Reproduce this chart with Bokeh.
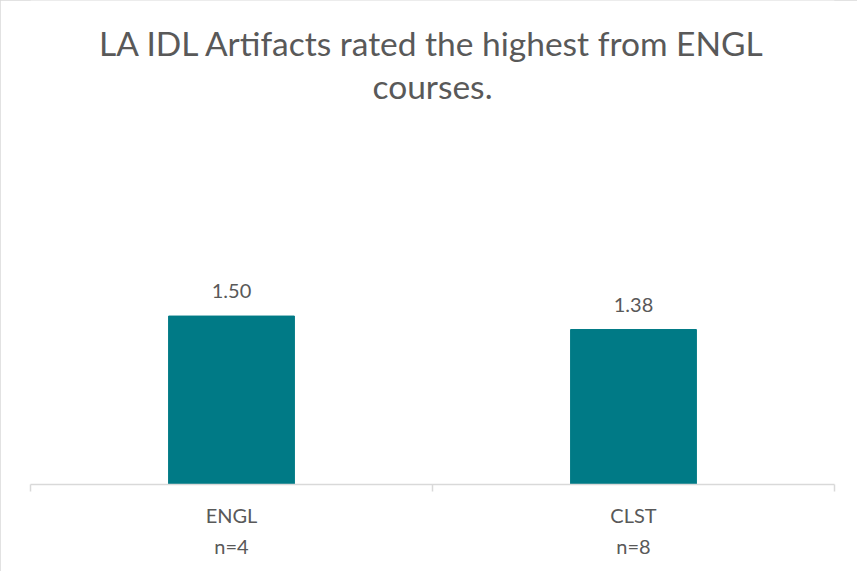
from bokeh.plotting import figure
from bokeh.models import ColumnDataSource, LabelSet, Label, FixedTicker, Range1d
from bokeh.core.properties import value
from bokeh.embed import file_html
from bokeh.resources import INLINE

categories = ["ENGL", "CLST"]
counts = ["n=4", "n=8"]
values = [1.50, 1.38]
title_lines = ["LA IDL Artifacts rated the highest from ENGL", "courses."]

FONT = "Lato"
TXT = "#595959"
BAR = "#007A86"
GRID = "#D9D9D9"
YMAX = 4.31

xs = [i + 0.5 for i in range(len(categories))]
src = ColumnDataSource(dict(x=xs, top=values, lab=[f"{v:.2f}" for v in values]))

p = figure(width=857, height=571, output_backend="svg", toolbar_location=None,
           x_range=Range1d(0, len(categories)), y_range=Range1d(0, YMAX),
           y_axis_location=None, min_border_left=30, min_border_right=23,
           min_border_top=0, min_border_bottom=87)
p.outline_line_color = None
p.grid.visible = False
p.background_fill_color = "white"
p.border_fill_color = "white"
p.styles = {"outline": "1px solid #D9D9D9", "outline-offset": "-1px"}

p.vbar(x="x", top="top", width=0.313, source=src, color=BAR)

p.add_layout(LabelSet(x="x", y="top", text="lab", source=src, y_offset=18,
                      text_align="center", text_baseline="alphabetic",
                      text_font=value(FONT), text_font_size="20px", text_color=TXT))

ax = p.xaxis[0]
ax.ticker = FixedTicker(ticks=xs, minor_ticks=list(range(len(categories) + 1)))
ax.major_label_overrides = {x: f"{c}\n{n}" for x, c, n in zip(xs, categories, counts)}
ax.major_tick_line_color = None
ax.major_tick_out = 0
ax.major_tick_in = 0
ax.minor_tick_line_color = GRID
ax.minor_tick_out = 7
ax.minor_tick_in = 0
ax.axis_line_color = GRID
ax.axis_line_width = 1.5
ax.minor_tick_line_width = 1.5
ax.major_label_text_font = FONT
ax.major_label_text_font_size = "20px"
ax.major_label_text_color = TXT
ax.major_label_text_line_height = 1.3
ax.major_label_standoff = 11

for line, yb in zip(title_lines, [442, 399]):
    p.add_layout(Label(x=len(categories) / 2, y=yb, y_units="screen", text=line,
                       text_align="center", text_baseline="alphabetic",
                       text_font=FONT, text_font_size="33.5px", text_color=TXT))

open("out.html", "w").write(file_html(p, INLINE))
